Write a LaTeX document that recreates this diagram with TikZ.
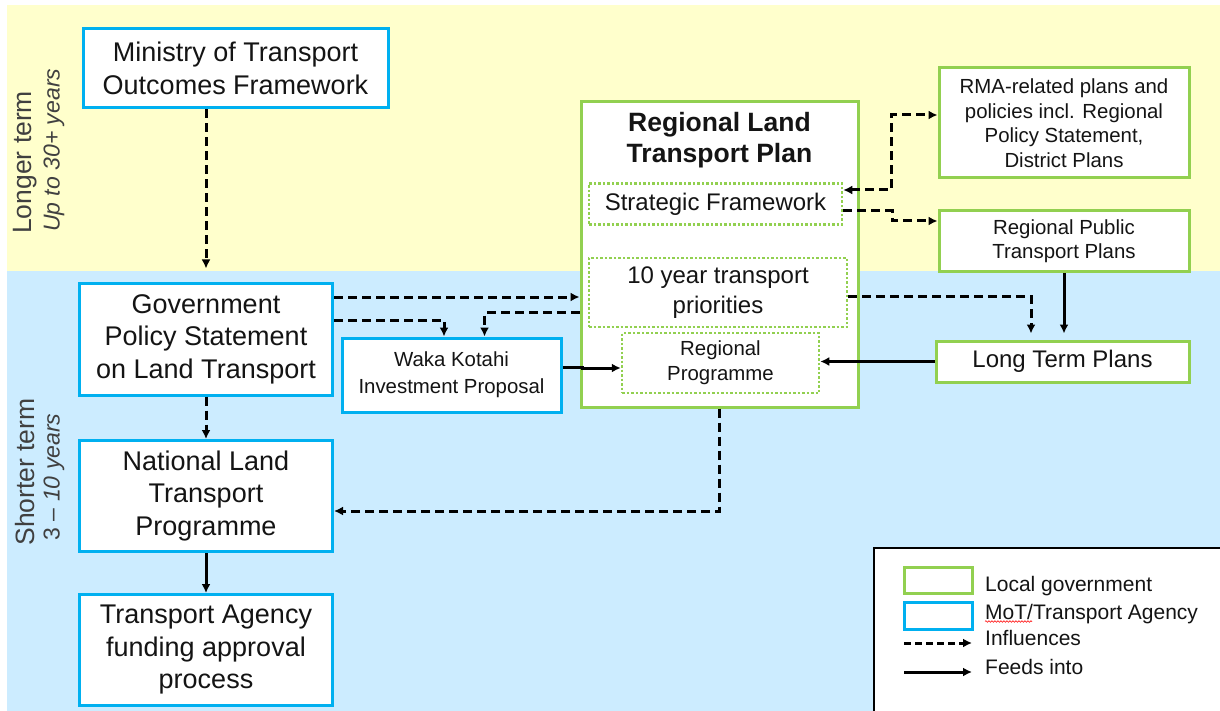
\documentclass[tikz,border=0pt]{standalone}
\usepackage{fontspec}
\setmainfont{Liberation Sans}
\usetikzlibrary{arrows.meta,decorations.pathmorphing}
\definecolor{bgyellow}{RGB}{255,255,204}
\definecolor{bgblue}{RGB}{204,236,255}
\definecolor{motblue}{RGB}{0,176,240}
\definecolor{locgreen}{RGB}{146,208,80}
\definecolor{txt}{RGB}{20,20,20}
\definecolor{sidetxt}{RGB}{64,64,64}
\newcommand\fbig{\fontsize{27}{32.5}\selectfont}
\newcommand\fmid{\fontsize{24}{29.5}\selectfont}
\newcommand\fsmall{\fontsize{20.4}{24.5}\selectfont}
\newcommand\fleg{\fontsize{21}{25}\selectfont}
\begin{document}
\begin{tikzpicture}[x=1pt,y=-1pt,
  motbox/.style={draw=motblue, line width=3pt, fill=white, align=center, inner sep=0pt, text=txt},
  locbox/.style={draw=locgreen, line width=3pt, fill=white, align=center, inner sep=0pt, text=txt},
  subbox/.style={draw=locgreen, line width=2.5pt, dash pattern=on 2.5pt off 2pt, fill=white, align=center, inner sep=0pt, text=txt},
  infl/.style={draw=black, line width=3pt, dash pattern=on 9pt off 5pt, -{Latex[length=9pt,width=9pt]}},
  feed/.style={draw=black, line width=3pt, -{Latex[length=9pt,width=9pt]}},
  sidelab/.style={rotate=90, text=sidetxt, inner sep=0pt},
  legtext/.style={anchor=base west, inner sep=0pt, text=txt, font=\fleg}
]
\useasboundingbox (0,0) rectangle (1220,711);
% bands
\fill[bgyellow] (7,5) rectangle (1220,271);
\fill[bgblue] (7,271) rectangle (1220,711);

% side labels
\node[sidelab, font=\fontsize{26.5}{30}\selectfont, anchor=west] (lt1) at (25,234) {Longer term};
\node[sidelab, font=\fontsize{23}{28}\selectfont\itshape, anchor=west] (lt2) at (54,232) {Up to 30+ years};
\node[sidelab, font=\fontsize{26.5}{30}\selectfont] (st1) at (25,472) {Shorter term};
\node[sidelab, font=\fontsize{23}{28}\selectfont] (st2) at (54,477) {3 -- \textit{10 years}};

% MoT boxes
\node[motbox, minimum width=305, minimum height=79, font=\fbig] (min) at (235.5,68.5) {Ministry of Transport\\Outcomes Framework};
\node[motbox, minimum width=253, minimum height=112, font=\fbig] (gps) at (206,339) {Government\\Policy Statement\\on Land Transport};
\node[motbox, minimum width=219, minimum height=74, font=\fontsize{20.4}{27}\selectfont] (waka) at (451.5,375) {Waka Kotahi\\Investment Proposal};
\node[motbox, minimum width=253, minimum height=111, font=\fbig] (nltp) at (206,496) {National Land\\Transport\\Programme};
\node[motbox, minimum width=253, minimum height=111, font=\fbig] (ta) at (206,650) {Transport Agency\\funding approval\\process};

% RLTP
\node[locbox, minimum width=277, minimum height=305] (rltp) at (719.5,254.5) {};
\node[align=center, inner sep=0pt, text=txt, font=\fontsize{26.5}{31}\selectfont\bfseries] (rltpt) at (719.5,140) {Regional Land\\Transport Plan};
\node[subbox, minimum width=253, minimum height=41, font=\fmid] (sf) at (715.5,204) {Strategic Framework};
\node[subbox, minimum width=258, minimum height=69, font=\fmid] (ten) at (718,292.5) {10 year transport\\priorities};
\node[subbox, minimum width=197, minimum height=60, font=\fontsize{20.4}{25}\selectfont] (rp) at (720.5,363) {Regional\\Programme};

% right local gov boxes
\node[locbox, minimum width=250, minimum height=110, font=\fsmall] (rma) at (1064,123) {RMA-related plans and\\policies incl. Regional\\Policy Statement,\\District Plans};
\node[locbox, minimum width=250, minimum height=61, font=\fsmall] (rptp) at (1064,241) {Regional Public\\Transport Plans};
\node[locbox, minimum width=253, minimum height=41, font=\fmid] (ltp) at (1062.5,361.5) {Long Term Plans};

% connectors
\draw[infl, shorten >=13pt] (min.south -| gps.north) -- (gps.north);
\draw[infl] ([yshift=42pt]gps.east) -- ([yshift=42pt]gps.east -| rltp.west);
\draw[infl] ([yshift=19pt]gps.east) -| ([xshift=-7.5pt]waka.north);
\draw[infl] ([yshift=-20pt]ten.west -| rltp.west) -| ([xshift=33pt]waka.north);
\draw[feed] ([yshift=8pt]waka.east) -- ++(20,0) |- ([yshift=-5pt]rp.west);
\draw[infl, {Latex[length=9pt,width=9pt]}-{Latex[length=9pt,width=9pt]}] ([yshift=14pt]sf.east) -- ++(48,0) |- ([yshift=8pt]rma.west);
\draw[infl] ([yshift=-7pt]sf.east) -- ++(49,0) |- ([yshift=20pt]rptp.west);
\draw[infl, shorten >=6pt] ([yshift=-3.5pt]ten.east) -| ([xshift=-31.5pt]ltp.north);
\draw[feed, shorten >=6pt] (rptp.south) -- (rptp.south |- ltp.north);
\draw[feed] (ltp.west) -- (ltp.west -| rp.east);
\draw[infl] (rltp.south) |- ([yshift=-15pt]nltp.east);
\draw[infl] (gps.south) -- (nltp.north);
\draw[feed] (nltp.south) -- (ta.north);

% legend
\draw[fill=white, line width=1.5pt] (1225,548) -- (874,548) -- (874,715) -- (1225,715);
\node[locbox, minimum width=68, minimum height=26] (lg1) at (938.5,580) {};
\node[motbox, minimum width=68, minimum height=27] (lg2) at (938.5,615.5) {};
\coordinate (lg3a) at (904,643);
\coordinate (lg3b) at (972,643);
\coordinate (lg4a) at (904,672);
\coordinate (lg4b) at (972,672);
\draw[infl, dash pattern=on 7pt off 4pt] (lg3a) -- (lg3b);
\draw[feed] (lg4a) -- (lg4b);
\node[legtext] (lt1x) at (985,591) {Local government};
\node[legtext] (lt2x) at (985,619) {MoT/Transport Agency};
\node[legtext] (lt3x) at (985,645) {Influences};
\node[legtext] (lt4x) at (985,674) {Feeds into};
\draw[red, line width=0.6pt, decorate, decoration={snake, amplitude=0.8pt, segment length=3pt}] ([yshift=-2.5pt]lt2x.base west) -- ++(47,0);
\end{tikzpicture}
\end{document}
